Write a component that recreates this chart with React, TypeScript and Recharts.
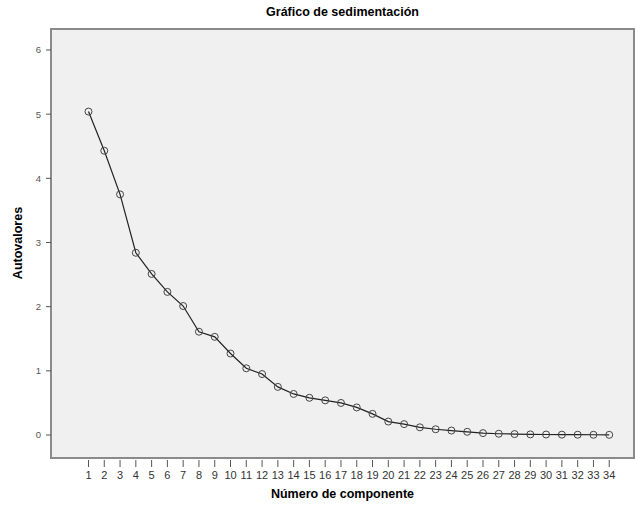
import React from 'react';
import { LineChart, Line, XAxis, YAxis, ReferenceArea } from 'recharts';

const componentNumbers = [1, 2, 3, 4, 5, 6, 7, 8, 9, 10, 11, 12, 13, 14, 15, 16, 17, 18, 19, 20, 21, 22, 23, 24, 25, 26, 27, 28, 29, 30, 31, 32, 33, 34];
const eigenvalues = [5.04, 4.43, 3.75, 2.84, 2.51, 2.23, 2.01, 1.61, 1.53, 1.27, 1.04, 0.95, 0.75, 0.64, 0.58, 0.54, 0.5, 0.43, 0.33, 0.21, 0.17, 0.12, 0.09, 0.07, 0.05, 0.03, 0.02, 0.015, 0.01, 0.008, 0.006, 0.005, 0.004, 0.003];
const yTicks = [0, 1, 2, 3, 4, 5, 6];
const chartTitle = 'Gráfico de sedimentación';
const xTitle = 'Número de componente';
const yTitle = 'Autovalores';

const data = componentNumbers.map((c, i) => ({ component: c, value: eigenvalues[i] }));

const X_DOMAIN: [number, number] = [-1.376, 35.57];
const Y_DOMAIN: [number, number] = [-0.358, 6.327];
const FONT = '"Liberation Sans", Arial, sans-serif';

const XTick = (props: any) => {
  const { x, y, payload } = props;
  return (
    <g>
      <line x1={x} x2={x} y1={y + 2} y2={y + 9} stroke="#555" strokeWidth={1} />
      <text x={x} y={y + 21} textAnchor="middle" fontSize={11} fill="#333" fontFamily={FONT}>
        {payload.value}
      </text>
    </g>
  );
};

export default function App() {
  return (
    <div style={{ position: 'absolute', left: 0, top: 0, width: 635, height: 506, background: '#fff', fontFamily: FONT }}>
      <LineChart width={635} height={506} data={data} margin={{ top: 29, right: 1, left: 0, bottom: 0 }}>
        <XAxis
          dataKey="component"
          type="number"
          domain={X_DOMAIN}
          allowDataOverflow
          ticks={componentNumbers}
          interval={0}
          height={48}
          axisLine={false}
          tickLine={false}
          tickSize={0}
          tickMargin={0}
          tick={<XTick />}
        />
        <YAxis
          type="number"
          domain={Y_DOMAIN}
          allowDataOverflow
          ticks={yTicks}
          interval={0}
          width={51}
          axisLine={false}
          tickLine={{ stroke: '#555' }}
          tickSize={5}
          tickMargin={5}
          tick={{ fontSize: 9.5, fill: '#555', fontFamily: FONT }}
        />
        <ReferenceArea
          x1={X_DOMAIN[0]}
          x2={X_DOMAIN[1]}
          y1={Y_DOMAIN[0]}
          y2={Y_DOMAIN[1]}
          fill="#F0F0F0"
          fillOpacity={1}
          stroke="#8a8a8a"
          strokeWidth={2}
          ifOverflow="visible"
        />
        <Line
          type="linear"
          dataKey="value"
          stroke="#222"
          strokeWidth={1.2}
          dot={{ r: 3.5, stroke: '#444', strokeWidth: 1, fill: 'none' }}
          activeDot={false}
          isAnimationActive={false}
        />
      </LineChart>
      <div style={{ position: 'absolute', left: 51, top: 5, width: 583, textAlign: 'center', fontSize: 12.5, fontWeight: 'bold', lineHeight: '14px', color: '#000' }}>
        {chartTitle}
      </div>
      <div style={{ position: 'absolute', left: 51, top: 487, width: 583, textAlign: 'center', fontSize: 12.5, fontWeight: 'bold', lineHeight: '14px', color: '#000' }}>
        {xTitle}
      </div>
      <div style={{ position: 'absolute', left: 18 - 60, top: 243 - 7, width: 120, textAlign: 'center', fontSize: 12.5, fontWeight: 'bold', lineHeight: '14px', color: '#000', transform: 'rotate(-90deg)' }}>
        {yTitle}
      </div>
    </div>
  );
}
